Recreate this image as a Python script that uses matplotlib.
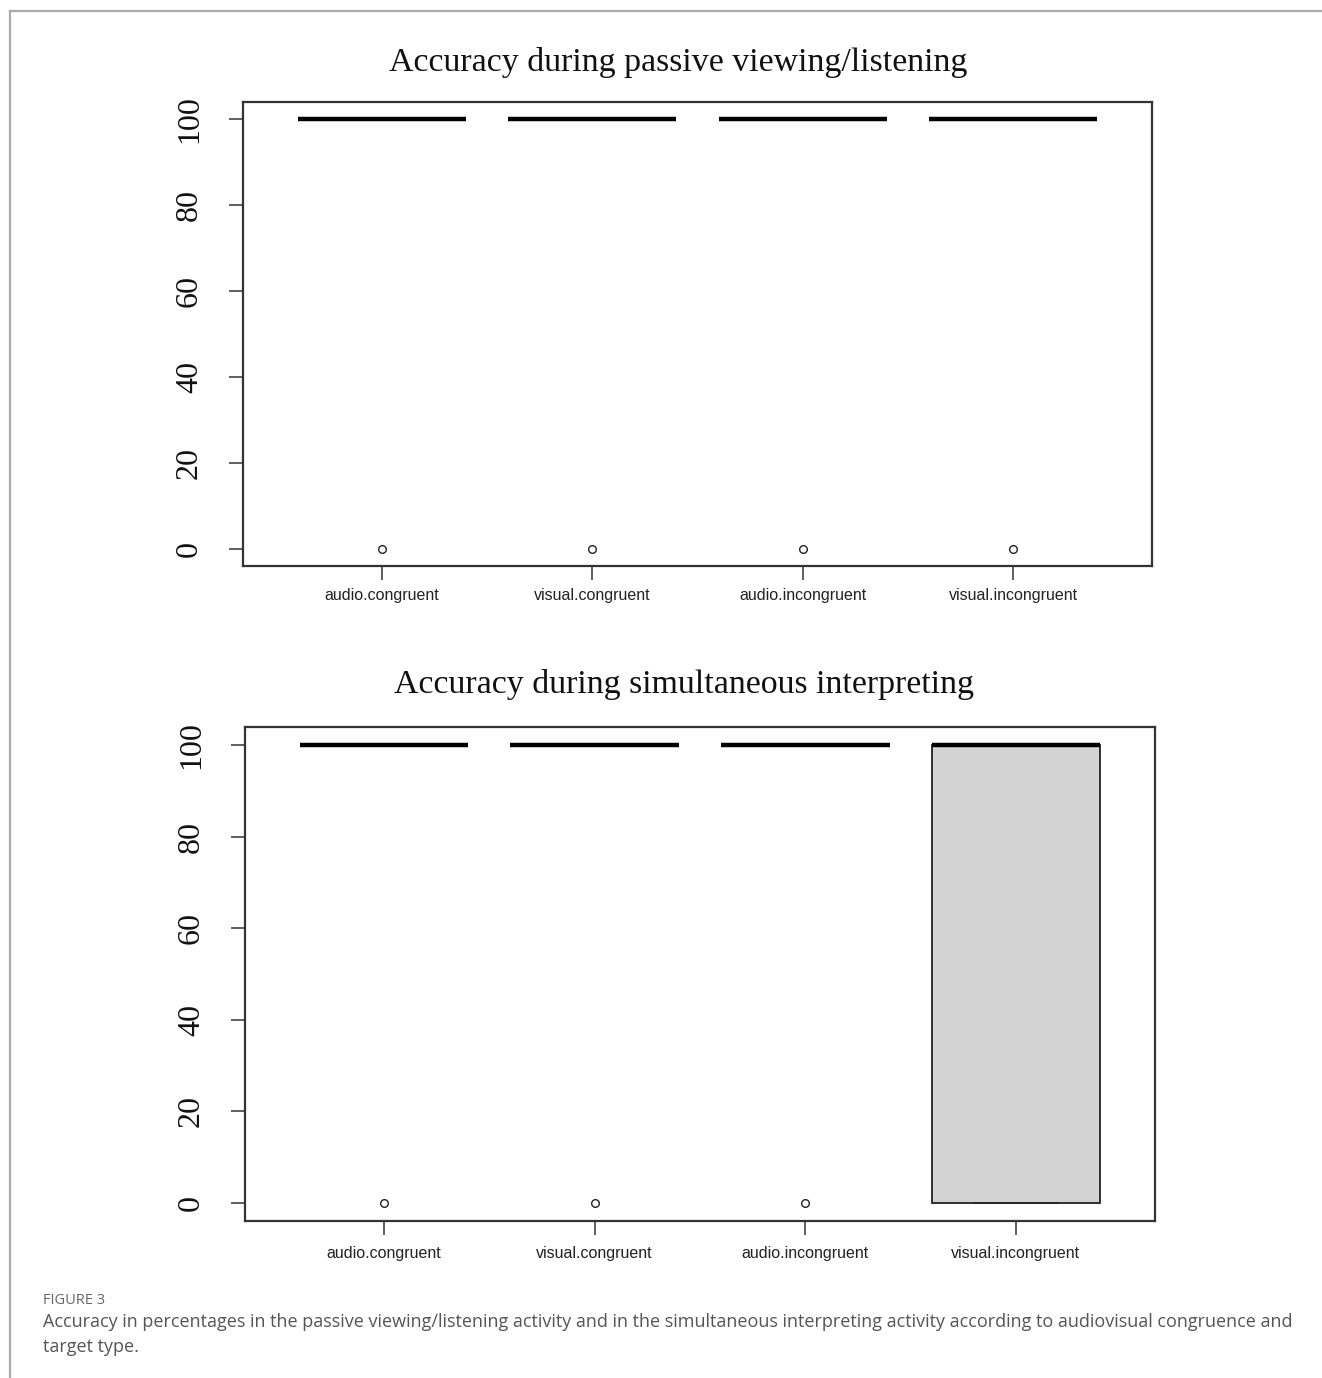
import matplotlib
matplotlib.use("Agg")
import matplotlib.pyplot as plt
from matplotlib.lines import Line2D

W, H = 1322, 1378
DPI = 100

categories = ["audio.congruent", "visual.congruent", "audio.incongruent", "visual.incongruent"]
yticks = [0, 20, 40, 60, 80, 100]

# Passive viewing/listening: five-number summaries + outliers
passive_q1 = [100, 100, 100, 100]
passive_med = [100, 100, 100, 100]
passive_q3 = [100, 100, 100, 100]
passive_lo = [100, 100, 100, 100]
passive_hi = [100, 100, 100, 100]
passive_out = [[0], [0], [0], [0]]

# Simultaneous interpreting
simult_q1 = [100, 100, 100, 0]
simult_med = [100, 100, 100, 100]
simult_q3 = [100, 100, 100, 100]
simult_lo = [100, 100, 100, 0]
simult_hi = [100, 100, 100, 100]
simult_out = [[0], [0], [0], []]

titles = ["Accuracy during passive viewing/listening", "Accuracy during simultaneous interpreting"]
fig_label = "FIGURE 3"
caption_lines = [
    "Accuracy in percentages in the passive viewing/listening activity and in the simultaneous interpreting activity according to audiovisual congruence and",
    "target type.",
]

fig = plt.figure(figsize=(W / DPI, H / DPI), dpi=DPI)
fig.patch.set_facecolor("white")

def px_axes(left, top, right, bottom):
    return fig.add_axes([left / W, 1 - bottom / H, (right - left) / W, (bottom - top) / H])

def draw_panel(ax, q1, med, q3, lo, hi, out, title, title_x, title_y, xpad):
    stats = []
    for i in range(len(categories)):
        stats.append(dict(med=med[i], q1=q1[i], q3=q3[i], whislo=lo[i], whishi=hi[i],
                          fliers=out[i], label=categories[i]))
    positions = list(range(1, len(categories) + 1))
    ax.bxp(stats, positions=positions, widths=0.8, patch_artist=True, showcaps=True,
           boxprops=dict(facecolor="#d3d3d3", edgecolor="#222222", linewidth=1.3),
           medianprops=dict(color="black", linewidth=3.2, solid_capstyle="butt"),
           whiskerprops=dict(color="#222222", linewidth=1.2, linestyle="--"),
           capprops=dict(color="#222222", linewidth=1.2),
           flierprops=dict(marker="o", markersize=5.5, markerfacecolor="none",
                           markeredgecolor="#222222", markeredgewidth=1.0))
    ax.set_xlim(0.34, 4.66)
    ax.set_ylim(-4, 104)
    ax.set_yticks(yticks)
    ax.set_yticklabels([str(v) for v in yticks], rotation=90, va="center",
                       family="Liberation Serif", fontsize=23, color="#111111")
    ax.set_xticks(positions)
    ax.set_xticklabels(categories, family="Liberation Sans", fontsize=11.5, color="#222222")
    ax.tick_params(axis="y", length=10, width=1.2, color="#444444", pad=18)
    ax.tick_params(axis="x", length=10, width=1.2, color="#444444", pad=xpad)
    for s in ax.spines.values():
        s.set_color("#333333")
        s.set_linewidth(1.6)
    ax.set_facecolor("white")
    fig.text(title_x / W, 1 - title_y / H, title,
             ha="center", va="center", family="Liberation Serif", fontsize=24.4, color="#111111")

ax1 = px_axes(243, 102, 1152, 566)
draw_panel(ax1, passive_q1, passive_med, passive_q3, passive_lo, passive_hi, passive_out,
           titles[0], 678, 62, 6)

ax2 = px_axes(245, 727, 1155, 1221)
draw_panel(ax2, simult_q1, simult_med, simult_q3, simult_lo, simult_hi, simult_out,
           titles[1], 683.5, 684, 8)

# frame lines
fig.add_artist(Line2D([10 / W, 10 / W], [0, 1 - 11 / H], transform=fig.transFigure,
                      color="#aaaaaa", linewidth=1.6))
fig.add_artist(Line2D([10 / W, 1], [1 - 11 / H, 1 - 11 / H], transform=fig.transFigure,
                      color="#aaaaaa", linewidth=1.6))

fig.text(43 / W, 1 - 1300 / H, fig_label, ha="left", va="center", family="Open Sans",
         fontsize=10.5, color="#666666")
fig.text(43 / W, 1 - 1322 / H, caption_lines[0], ha="left", va="center", family="Open Sans",
         fontsize=13, color="#555555")
fig.text(43 / W, 1 - 1347 / H, caption_lines[1], ha="left", va="center", family="Open Sans",
         fontsize=13, color="#555555")

fig.savefig("out.png", dpi=DPI, facecolor="white")
